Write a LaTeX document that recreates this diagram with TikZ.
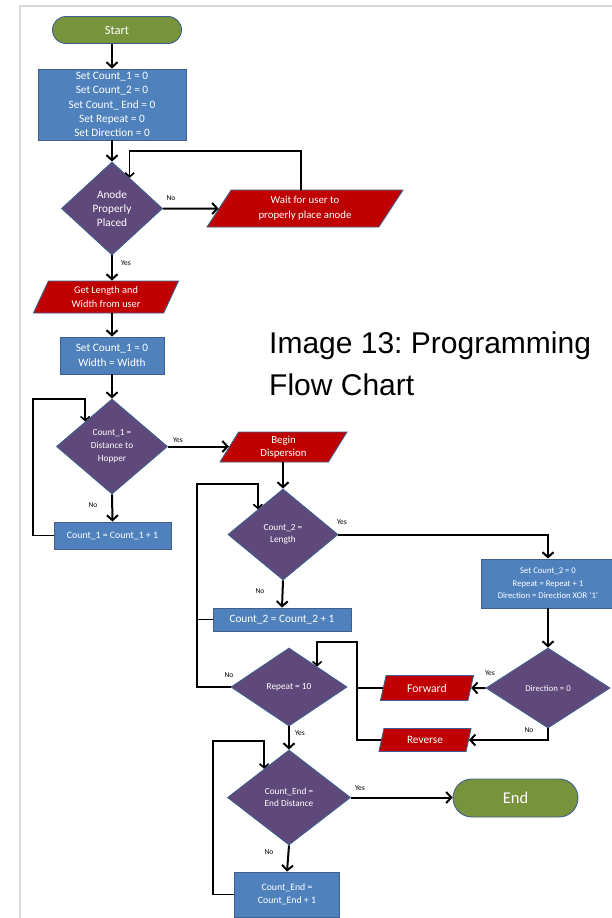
\documentclass[tikz,border=0pt]{standalone}
\usepackage{fontspec}
\setmainfont{Carlito}
\newfontfamily\capfont{Liberation Sans}
\usetikzlibrary{shapes.geometric,shapes.misc,arrows.meta}
\definecolor{edgeblue}{HTML}{3F5F8C}
\definecolor{termgreen}{HTML}{77933C}
\definecolor{procblue}{HTML}{4F81BD}
\definecolor{iored}{HTML}{C00000}
\definecolor{decpurple}{HTML}{5F497A}
\definecolor{framegray}{HTML}{DADADA}
\frenchspacing

\begin{document}
\begin{tikzpicture}[x=1pt, y=-1pt,
  term/.style={rounded rectangle, draw=edgeblue, line width=0.9pt, fill=termgreen, text=white, inner sep=0pt},
  proc/.style={rectangle, draw=edgeblue, line width=0.9pt, fill=procblue, text=white, align=center, inner sep=0pt},
  io/.style={trapezium, trapezium left angle=55, trapezium right angle=125, trapezium stretches body,
    draw=edgeblue, line width=0.9pt, fill=iored, text=white, align=center, inner sep=0pt},
  decision/.style={diamond, draw=edgeblue, line width=0.9pt, fill=decpurple, text=white, align=center, inner sep=0pt},
  arr/.style={line width=2pt, -{Straight Barb[length=5pt,width=11pt]}},
  back/.style={line width=1.6pt, -{Straight Barb[length=4pt,width=9pt]}},
  lbl/.style={font=\fontsize{7.5}{9}\selectfont, inner sep=0pt},
]
\useasboundingbox (0,0) rectangle (612,918);
\draw[framegray, line width=1.2pt] (612,6) -- (20,6) -- (20,918);

% left column
\node[term, minimum width=129pt, minimum height=27pt, font=\fontsize{12.5}{14}\selectfont] (start) at (117,30) {Start};
\node[proc, minimum width=148pt, minimum height=71pt, font=\fontsize{11.3}{14.3}\selectfont] (init) at (112,104.5)
  {Set Count\_1 = 0\\Set Count\_2 = 0\\Set Count\_ End = 0\\Set Repeat = 0\\Set Direction = 0};
\node[decision, minimum width=101pt, minimum height=93pt, font=\fontsize{11.3}{14}\selectfont] (anode) at (112,208.5)
  {Anode\\Properly\\Placed};
\node[io, trapezium left angle=45, trapezium right angle=135, minimum width=196pt, minimum height=37pt,
  font=\fontsize{10.8}{15}\selectfont] (wait) at (305,208.5) {Wait for user to\\properly place anode};
\node[io, minimum width=145pt, minimum height=32pt, font=\fontsize{10.3}{14}\selectfont] (getdim) at (106,297)
  {Get Length and\\Width from user};
\node[proc, minimum width=104pt, minimum height=37pt, font=\fontsize{11.3}{15}\selectfont] (setc1) at (112,355.5)
  {Set Count\_1 = 0\\Width = Width};
\node[decision, minimum width=111pt, minimum height=95pt, font=\fontsize{9.3}{13}\selectfont] (hopper) at (112,446.5)
  {Count\_1 =\\Distance to\\Hopper};
\node[proc, minimum width=117pt, minimum height=27pt, font=\fontsize{9.8}{11}\selectfont] (incc1) at (112.5,535.5)
  {Count\_1 = Count\_1 + 1};

% middle and right
\node[io, trapezium left angle=50, trapezium right angle=130, minimum width=127pt, minimum height=30pt,
  font=\fontsize{10.8}{13}\selectfont] (begin) at (283.5,447) {Begin\\Dispersion};
\node[decision, minimum width=110pt, minimum height=91pt, font=\fontsize{9.3}{12.5}\selectfont] (length) at (283,534.5)
  {Count\_2 =\\Length};
\node[proc, minimum width=138pt, minimum height=23pt, font=\fontsize{11.3}{13}\selectfont] (incc2) at (282,619.5)
  {Count\_2 = Count\_2 + 1};
\node[proc, minimum width=134pt, minimum height=49pt, font=\fontsize{8.7}{12.3}\selectfont] (setc2) at (548,583.5)
  {Set Count\_2 = 0\\Repeat = Repeat + 1\\Direction = Direction XOR `1'};
\node[decision, minimum width=124pt, minimum height=80pt, font=\fontsize{8.8}{10}\selectfont] (dir) at (548,688)
  {Direction = 0};
\node[io, trapezium left angle=56, trapezium right angle=124, minimum width=93pt, minimum height=25pt,
  font=\fontsize{11.8}{13}\selectfont] (fwd) at (427,688) {Forward};
\node[io, trapezium left angle=56, trapezium right angle=124, minimum width=92pt, minimum height=23pt,
  font=\fontsize{11.3}{13}\selectfont] (rev) at (425,740) {Reverse};
\node[decision, minimum width=116pt, minimum height=78pt, font=\fontsize{9.3}{11}\selectfont] (rep) at (289,687)
  {Repeat = 10};
\node[decision, minimum width=123pt, minimum height=95pt, font=\fontsize{9.3}{12}\selectfont] (cend) at (289,797.5)
  {Count\_End =\\End Distance};
\node[term, minimum width=125pt, minimum height=38pt, font=\fontsize{16.5}{18}\selectfont] (done) at (515.5,798) {End};
\node[proc, minimum width=105pt, minimum height=45pt, font=\fontsize{9.8}{13}\selectfont] (inccend) at (287,894.5)
  {Count\_End =\\Count\_End + 1};

% caption
\node[anchor=north west, align=left, inner sep=0pt, font=\capfont\fontsize{30}{41.7}\selectfont] (caption) at (269,332)
  {Image 13: Programming\\Flow Chart};

% branch labels
\node[lbl] (anodeno) at (171,198) {No};
\node[lbl] (anodeyes) at (126,263) {Yes};
\node[lbl] (hopperyes) at (178,440) {Yes};
\node[lbl] (hopperno) at (93,505) {No};
\node[lbl] (lengthyes) at (342,522) {Yes};
\node[lbl] (lengthno) at (260,591) {No};
\node[lbl] (repno) at (229,675) {No};
\node[lbl] (repyes) at (300,733) {Yes};
\node[lbl] (diryes) at (490,673) {Yes};
\node[lbl] (dirno) at (529,730) {No};
\node[lbl] (cendyes) at (360,788) {Yes};
\node[lbl] (cendno) at (269,852) {No};

% connectors
\coordinate (waitup) at (301,151);
\coordinate (c1loop) at (33,399);
\coordinate (c2loop) at (197,484);
\coordinate (frloop) at (357,642);
\coordinate (celoop) at (213,741);
\draw[arr] (start.south -| init.north) -- (init.north);
\draw[arr] (init.south) -- (anode.north);
\draw[arr] (anode.east) -- (wait.west);
\draw[back] (wait.north -| waitup) -- (waitup) -| (anode.60);
\draw[arr] (anode.south) -- (anode.south |- getdim.north);
\draw[arr] (getdim.south -| setc1.north) -- (setc1.north);
\draw[arr] (setc1.south) -- (hopper.north);
\draw[arr] (hopper.east) -- (hopper.east -| begin.west);
\draw[arr] (hopper.south) -- (incc1.north);
\draw[back] (incc1.west) -| (c1loop) -| (hopper.137);
\draw[arr] (begin.south -| length.north) -- (length.north);
\draw[arr] (length.east) -| (setc2.north);
\draw[arr] (length.south) -- (incc2.north);
\draw[arr] (setc2.south) -- (dir.north);
\draw[back] (rep.west) -| (c2loop) -| (length.135);
\draw[line width=1.6pt] (incc2.west) -- (incc2.west -| c2loop);
\draw[arr] (dir.west) -- (fwd.east);
\draw[arr] (dir.south) |- (rev.east);
\draw[back] (rev.west) -| (frloop) -| (rep.36);
\draw[line width=1.6pt] (fwd.west) -- (fwd.west -| frloop);
\draw[arr] (rep.south) -- (cend.north);
\draw[arr] (cend.east) -- (cend.east -| done.west);
\draw[arr] (cend.south) -- (inccend.north);
\draw[back] (inccend.west) -| (celoop) -| (cend.131);
\end{tikzpicture}
\end{document}
